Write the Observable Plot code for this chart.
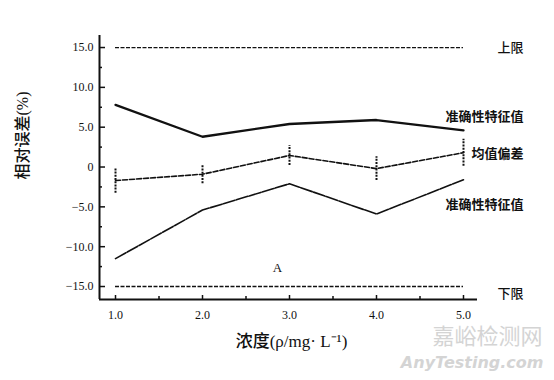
<!DOCTYPE html>
<html><head><meta charset="utf-8">
<script src="https://cdn.jsdelivr.net/npm/d3@7"></script>
<script src="https://cdn.jsdelivr.net/npm/@observablehq/plot@0.6"></script>
<style>body{margin:0;background:#fff}</style>
</head><body><div id="chart"></div>
<script>
const concentrations = [1.0, 2.0, 3.0, 4.0, 5.0];
const upperChar = [7.8, 3.8, 5.4, 5.9, 4.6];
const meanBias = [-1.7, -0.9, 1.45, -0.2, 1.8];
const biasErr = [1.6, 1.2, 1.25, 1.5, 1.7];
const lowerChar = [-11.5, -5.4, -2.1, -5.9, -1.6];
const upperLimit = 15;
const lowerLimit = -15;
const yMajor = [-15, -10, -5, 0, 5, 10, 15];
const yMinor = [-12.5, -7.5, -2.5, 2.5, 7.5, 12.5];
const yTickLabels = ["−15.0", "−10.0", "−5.0", "0", "5.0", "10.0", "15.0"];
const xMajor = [1, 2, 3, 4, 5];
const xMinor = [1.5, 2.5, 3.5, 4.5];
const xTickLabels = ["1.0", "2.0", "3.0", "4.0", "5.0"];
const seriesNames = ["上限", "准确性特征值", "均值偏差", "准确性特征值", "下限"];
const yTitle = "相对误差(%)";
const xTitle = "浓度(ρ/mg· L⁻¹)";

const xDomain = [0.816, 5.161];
const yDomain = [-16.63, 16.51];

const rows = concentrations.map((c, i) => ({
  x: c, up: upperChar[i], bias: meanBias[i], err: biasErr[i], low: lowerChar[i]
}));
const last = rows[rows.length - 1];

const serif = "Liberation Serif, Times New Roman, serif";
const cjk = "Liberation Serif, Noto Sans CJK SC, serif";

const chart = Plot.plot({
  width: 554,
  height: 380,
  marginLeft: 99,
  marginRight: 77,
  marginTop: 35,
  marginBottom: 81,
  style: {background: "#fff", color: "#111"},
  x: {domain: xDomain, axis: null},
  y: {domain: yDomain, axis: null},
  marks: [
    // axis lines
    Plot.ruleX([xDomain[0]], {strokeWidth: 2, stroke: "#111"}),
    Plot.ruleY([yDomain[0]], {strokeWidth: 2, stroke: "#111"}),
    // inward ticks
    Plot.axisY({ticks: yMajor, tickSize: -6, tickFormat: () => "", strokeWidth: 1.5, label: null}),
    Plot.axisY({ticks: yMinor, tickSize: -3, tickFormat: () => "", strokeWidth: 1.5, label: null}),
    Plot.axisX({ticks: xMajor, tickSize: -4, tickFormat: () => "", strokeWidth: 1.5, label: null}),
    Plot.axisX({ticks: xMinor, tickSize: -3, tickFormat: () => "", strokeWidth: 1.5, label: null}),
    // tick labels
    Plot.axisY({ticks: yMajor, tickSize: 0, tickPadding: 6, tickFormat: d => yTickLabels[yMajor.indexOf(d)],
      fontSize: 12, fontFamily: serif, label: null}),
    Plot.axisX({ticks: xMajor, tickSize: 0, tickPadding: 11, tickFormat: d => xTickLabels[xMajor.indexOf(d)],
      fontSize: 12, fontFamily: serif, label: null}),
    // limits
    Plot.ruleY([upperLimit], {x1: concentrations[0], x2: last.x, strokeDasharray: "4,1.5", strokeWidth: 1.3, stroke: "#111"}),
    Plot.ruleY([lowerLimit], {x1: concentrations[0], x2: last.x, strokeDasharray: "4,1.5", strokeWidth: 1.3, stroke: "#111"}),
    // series
    Plot.line(rows, {x: "x", y: "up", strokeWidth: 2.3, stroke: "#111"}),
    Plot.line(rows, {x: "x", y: "low", strokeWidth: 1.6, stroke: "#111", strokeDasharray: "12,1.5"}),
    Plot.line(rows, {x: "x", y: "bias", strokeWidth: 1.6, stroke: "#111", strokeDasharray: "5,2"}),
    Plot.ruleX(rows, {x: "x", y1: d => d.bias - d.err, y2: d => d.bias + d.err, strokeWidth: 2, stroke: "#111", strokeDasharray: "2,1.2"}),
    // series labels
    Plot.text([seriesNames[0]], {x: last.x, y: upperLimit, dx: 60, textAnchor: "end", fontSize: 13, fontFamily: cjk, fontWeight: 500}),
    Plot.text([seriesNames[1]], {x: last.x, y: 6.3, dx: 60, textAnchor: "end", fontSize: 13, fontFamily: cjk, fontWeight: 700}),
    Plot.text([seriesNames[2]], {x: last.x, y: 1.7, dx: 60, textAnchor: "end", fontSize: 13, fontFamily: cjk, fontWeight: 700}),
    Plot.text([seriesNames[3]], {x: last.x, y: -4.8, dx: 60, textAnchor: "end", fontSize: 13, fontFamily: cjk, fontWeight: 700}),
    Plot.text([seriesNames[4]], {x: last.x, y: lowerLimit, dx: 60, dy: 7, textAnchor: "end", fontSize: 13, fontFamily: cjk, fontWeight: 500}),
    Plot.text(["A"], {x: 2.86, y: -12.6, fontSize: 13, fontFamily: serif}),
    // axis titles
    Plot.text([yTitle], {frameAnchor: "left", dx: -77, dy: 12, rotate: -90, fontSize: 16, fontFamily: cjk, fontWeight: 500}),
    Plot.text([xTitle], {frameAnchor: "bottom", dx: 3, dy: 47, fontSize: 17, fontFamily: cjk, fontWeight: 500}),
    // watermark
    Plot.text(["嘉峪检测网"], {frameAnchor: "bottom-right", dx: 65, dy: 44, textAnchor: "end", fontSize: 22, fill: "#d4d4d4", fontFamily: "Noto Sans CJK SC"}),
    Plot.text(["AnyTesting.com"], {frameAnchor: "bottom-right", dx: 66, dy: 68, textAnchor: "end", fontSize: 16, fill: "#d4d4d4", fontStyle: "italic", fontWeight: 700, fontFamily: "DejaVu Sans"})
  ]
});
document.getElementById("chart").appendChild(chart);
</script>
</body></html>
